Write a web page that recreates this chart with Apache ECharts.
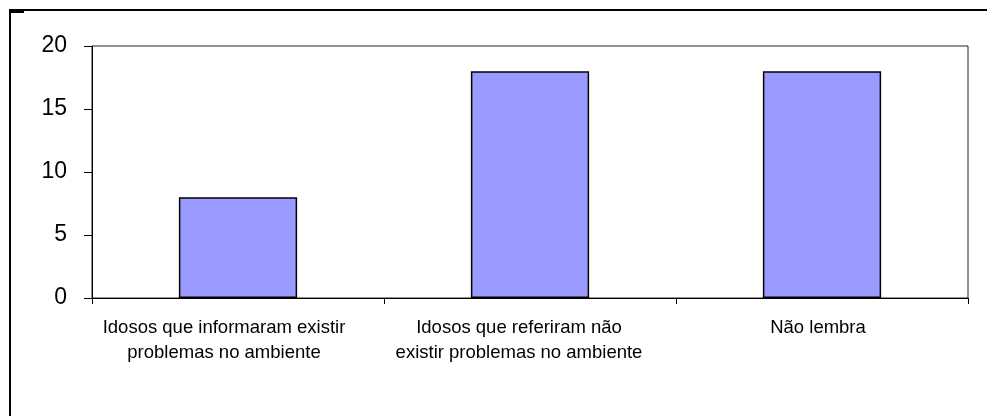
<!DOCTYPE html>
<html>
<head>
<meta charset="utf-8">
<script src="https://cdn.jsdelivr.net/npm/echarts@6/dist/echarts.min.js"></script>
<style>
  html, body { margin: 0; padding: 0; background: #fff; }
  #chart { width: 987px; height: 416px; }
</style>
</head>
<body>
<div id="chart"></div>
<script>
// categories and values
var categories = [
  'Idosos que informaram existir\nproblemas no ambiente',
  'Idosos que referiram não\nexistir problemas no ambiente',
  'Não lembra'
];
var values = [8, 18, 18];
var yTicks = [0, 5, 10, 15, 20];

// labels in the original sit a little left of their bars
var labelShift = [28, 22, 8];
var rich = {};
labelShift.forEach(function (p, i) {
  rich['c' + i] = { fontSize: 18.5, lineHeight: 25, color: '#000', padding: [0, p, 0, 0] };
});

var chart = echarts.init(document.getElementById('chart'));
chart.setOption({
  animation: false,
  textStyle: { fontFamily: 'Liberation Sans, Arial, sans-serif' },
  graphic: [{
    type: 'rect',
    shape: { x: 10, y: 10, width: 1000, height: 500 },
    style: { fill: 'none', stroke: '#000', lineWidth: 2 },
    silent: true
  }, {
    type: 'rect',
    shape: { x: 10, y: 11, width: 14, height: 2 },
    style: { fill: '#000' },
    silent: true
  }],
  grid: {
    left: 92, top: 46, right: 19, bottom: 118,
    show: true,
    borderColor: '#222',
    borderWidth: 1,
    backgroundColor: '#fff'
  },
  xAxis: {
    type: 'category',
    data: categories,
    boundaryGap: true,
    axisLine: { lineStyle: { color: '#000', width: 1 } },
    axisTick: { show: true, length: 6, alignWithLabel: false, lineStyle: { color: '#000' } },
    axisLabel: {
      color: '#000',
      fontSize: 18.5,
      lineHeight: 25,
      margin: 17,
      interval: 0,
      formatter: function (v, i) {
        return v.split('\n').map(function (s) {
          return '{c' + i + '|' + s + '}';
        }).join('\n');
      },
      rich: rich
    },
    splitLine: { show: false }
  },
  yAxis: {
    type: 'value',
    min: yTicks[0],
    max: yTicks[yTicks.length - 1],
    interval: 5,
    axisLine: { show: true, lineStyle: { color: '#000', width: 1 } },
    axisTick: { show: true, length: 8, inside: false, lineStyle: { color: '#000' } },
    axisLabel: { color: '#000', fontSize: 23, margin: 25 },
    splitLine: { show: false }
  },
  series: [{
    type: 'bar',
    data: values,
    barWidth: '40.5%',
    itemStyle: {
      color: '#9999ff',
      borderColor: '#000',
      borderWidth: 1.5
    }
  }]
});
window.addEventListener('resize', function () {
  chart.resize();
});
</script>
</body>
</html>
